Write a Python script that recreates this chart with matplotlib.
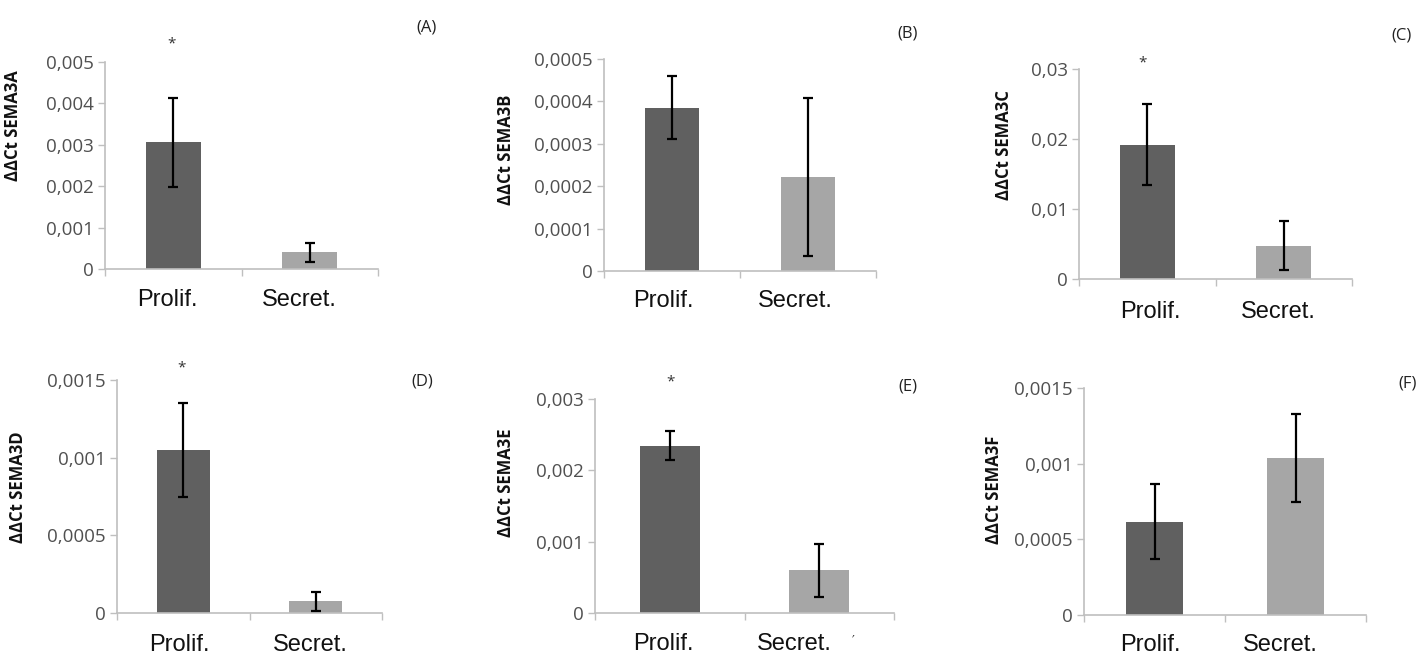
import matplotlib
matplotlib.use("Agg")
import matplotlib.pyplot as plt
import matplotlib.transforms as mtransforms
import numpy as np

W, H = 1426, 658

categories = ["Prolif.", "Secret."]
genes = ["SEMA3A", "SEMA3B", "SEMA3C", "SEMA3D", "SEMA3E", "SEMA3F"]
panel_tags = ["(A)", "(B)", "(C)", "(D)", "(E)", "(F)"]

means_A = [0.00306, 0.00040]
errs_A = [0.00108, 0.00024]
means_B = [0.000385, 0.000222]
errs_B = [0.000074, 0.000187]
means_C = [0.0192, 0.00476]
errs_C = [0.0058, 0.0035]
means_D = [0.00105, 0.000075]
errs_D = [0.00030, 0.00006]
means_E = [0.002345, 0.000597]
errs_E = [0.00020, 0.00037]
means_F = [0.000617, 0.001037]
errs_F = [0.00025, 0.00029]

ymax = [0.005, 0.0005, 0.03, 0.0015, 0.003, 0.0015]
yticks = [
    [0, 0.001, 0.002, 0.003, 0.004, 0.005],
    [0, 0.0001, 0.0002, 0.0003, 0.0004, 0.0005],
    [0, 0.01, 0.02, 0.03],
    [0, 0.0005, 0.001, 0.0015],
    [0, 0.001, 0.002, 0.003],
    [0, 0.0005, 0.001, 0.0015],
]
ytick_labels = [
    ["0", "0,001", "0,002", "0,003", "0,004", "0,005"],
    ["0", "0,0001", "0,0002", "0,0003", "0,0004", "0,0005"],
    ["0", "0,01", "0,02", "0,03"],
    ["0", "0,0005", "0,001", "0,0015"],
    ["0", "0,001", "0,002", "0,003"],
    ["0", "0,0005", "0,001", "0,0015"],
]
significant = [True, False, True, True, True, False]

means = [means_A, means_B, means_C, means_D, means_E, means_F]
errs = [errs_A, errs_B, errs_C, errs_D, errs_E, errs_F]

# layout in pixels: (left, right, top, bottom)
boxes = [
    (105, 378, 62, 269),
    (604, 876, 59, 271),
    (1079, 1352, 69, 279),
    (117, 382, 380, 613),
    (595, 894, 399, 613),
    (1084, 1366, 388, 615),
]
label_dx = [(-6, -10), (-9, -13), (3, -5), (-4, -5), (-6, -25), (-4, -15)]
label_dy = [20, 19, 22, 21, 20, 19]
tag_pos = [(427, 27), (908, 34), (1402, 35), (422, 382), (908, 386), (1408, 383)]
star_pos = [(172, 44), None, (1143, 63), (182, 368), (671, 382), None]
ylabel_x = [22, 515, 1013, 27, 515, 1003]
ylabel_yc = [126, 150, 145, 487, 483, 490]

bar_colors = ["#606060", "#a6a6a6"]
axis_color = "#bfbfbf"
tick_color = "#505050"

fig = plt.figure(figsize=(W / 100, H / 100), dpi=100)
fig.patch.set_facecolor("white")

for i in range(6):
    l, r, t, b = boxes[i]
    ax = fig.add_axes([l / W, 1 - b / H, (r - l) / W, (b - t) / H])
    x = np.arange(len(categories))
    ax.bar(x, means[i], width=0.4, color=bar_colors, zorder=2)
    ax.errorbar(x, means[i], yerr=errs[i], fmt="none", ecolor="black",
                elinewidth=1.6, capsize=3.5, capthick=1.6, zorder=3)
    ax.set_xlim(-0.5, 1.5)
    ax.set_ylim(0, ymax[i])
    ax.set_yticks(yticks[i])
    ax.set_yticklabels(ytick_labels[i], family="Open Sans", fontsize=13.5, color=tick_color)
    ax.set_xticks([-0.5, 0.5, 1.5])
    ax.set_xticklabels(["", "", ""])
    base = mtransforms.blended_transform_factory(ax.transData, ax.transAxes)
    for xi, cat, dx in zip(x, categories, label_dx[i]):
        trans = base + mtransforms.ScaledTranslation(dx / 100, -label_dy[i] / 100, fig.dpi_scale_trans)
        ax.text(xi, 0, cat, transform=trans, family="Liberation Sans", fontsize=17,
                color="#111111", ha="center", va="top", clip_on=False)
    ax.tick_params(axis="x", which="major", length=5, width=1, color=axis_color, direction="out")
    ax.tick_params(axis="y", length=5, width=1, color=axis_color, direction="out", pad=3)
    for s in ["top", "right"]:
        ax.spines[s].set_visible(False)
    for s in ["left", "bottom"]:
        ax.spines[s].set_color(axis_color)
        ax.spines[s].set_linewidth(1.2)
    ax.set_ylabel("ΔΔCt " + genes[i], family="Open Sans", fontweight="bold", fontsize=12, color="#111111")
    ax.yaxis.set_label_coords((ylabel_x[i] - l) / (r - l), (b - ylabel_yc[i]) / (b - t))
    tx, ty = tag_pos[i]
    fig.text(tx / W, 1 - ty / H, panel_tags[i], family="Open Sans", fontsize=12,
             color="#222222", ha="center", va="center")
    if significant[i]:
        sx, sy = star_pos[i]
        fig.text(sx / W, 1 - sy / H, "*", family="Open Sans", fontsize=11,
                 color="#333333", ha="center", va="center")

fig.text(853 / W, 1 - 640 / H, "\u2032", family="DejaVu Sans", fontsize=9, color="#333333",
         ha="center", va="center")

fig.savefig("out.png", dpi=100, facecolor="white")
